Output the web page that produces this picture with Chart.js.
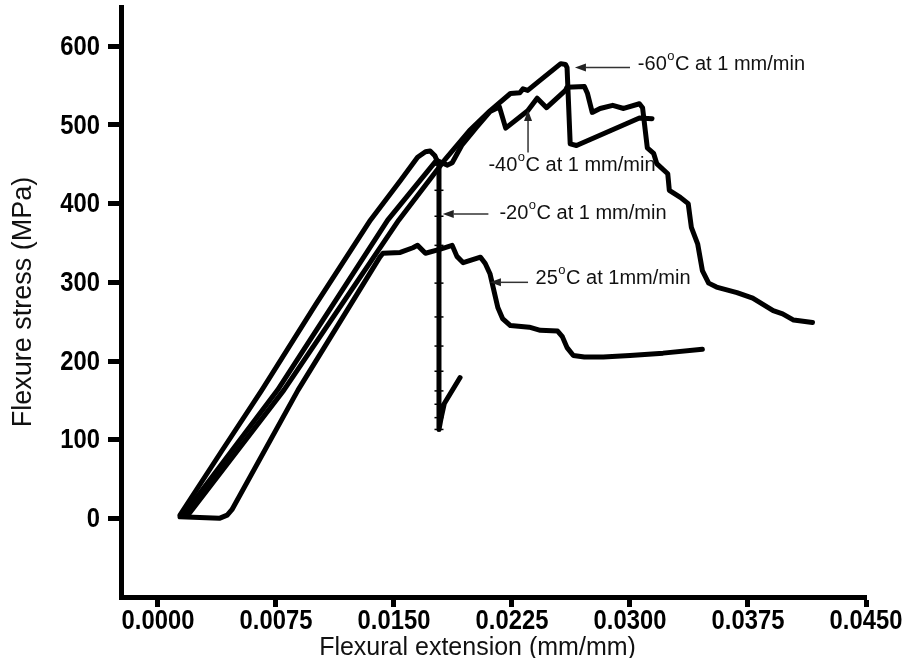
<!DOCTYPE html>
<html>
<head>
<meta charset="utf-8">
<script src="https://cdn.jsdelivr.net/npm/chart.js@4.4.1/dist/chart.umd.min.js"></script>
<style>
  html, body { margin: 0; padding: 0; background: #fff; }
</style>
</head>
<body>
<canvas id="flexChart" width="913" height="658"></canvas>
<script>
// Flexure stress vs flexural extension at four test temperatures

const xTicks = [0, 0.0075, 0.015, 0.0225, 0.03, 0.0375, 0.045];
const yTicks = [0, 100, 200, 300, 400, 500, 600];

// 25 °C
const t25X = [0.0014, 0.0039, 0.0044, 0.0047, 0.0089, 0.0141, 0.0143, 0.0154, 0.0162, 0.0165,
  0.0170, 0.0179, 0.0187, 0.0190, 0.0194, 0.0205, 0.0208, 0.0211, 0.0216, 0.0219,
  0.0224, 0.0236, 0.0243, 0.0254, 0.0257, 0.0260, 0.0264, 0.0271, 0.0283, 0.0300,
  0.0321, 0.0346];
const t25Y = [2, 0, 4, 11, 163, 332, 337, 338, 344, 347,
  337, 342, 347, 333, 325, 332, 324, 311, 268, 254,
  245, 243, 239, 238, 231, 217, 207, 205, 205, 207,
  210, 215];

// -20 °C (sudden failure, recorded points along the drop)
const m20X = [0.0014, 0.0040, 0.0066, 0.0100, 0.0135, 0.0154, 0.0165, 0.0170, 0.0173, 0.0176,
  0.01786, 0.01786, 0.01786, 0.01786, 0.01786, 0.01786, 0.01786, 0.01786, 0.01786, 0.01786,
  0.01786, 0.01786, 0.0180, 0.0182, 0.0192];
const m20Y = [4, 84, 163, 271, 379, 429, 459, 466, 467, 461,
  449, 417, 384, 347, 299, 256, 219, 187, 162, 145,
  128, 113, 128, 146, 179];

// -40 °C
const m40X = [0.0016, 0.0076, 0.0146, 0.0177, 0.0184, 0.0187, 0.0193, 0.0202, 0.0211, 0.0217,
  0.0221, 0.0235, 0.0241, 0.0247, 0.0259, 0.0260, 0.0271, 0.0273, 0.0276, 0.0281,
  0.0289, 0.0296, 0.0306, 0.0308, 0.0311, 0.0315, 0.0317, 0.0324, 0.0325, 0.0332,
  0.0337, 0.0339, 0.0343, 0.0346, 0.0350, 0.0355, 0.0368, 0.0378, 0.0391, 0.0397,
  0.0404, 0.0416];
const m40Y = [4, 163, 379, 455, 449, 452, 474, 496, 517, 523,
  496, 518, 534, 522, 544, 548, 549, 540, 516, 521,
  525, 521, 527, 522, 471, 464, 451, 438, 417, 408,
  400, 370, 349, 315, 299, 294, 287, 280, 264, 260,
  252, 249];

// -60 °C
const m60X = [0.0019, 0.0080, 0.0153, 0.0182, 0.0198, 0.0211, 0.0224, 0.0230, 0.0232, 0.0235,
  0.0243, 0.0256, 0.0259, 0.0260, 0.0262, 0.0266, 0.0306, 0.0314];
const m60Y = [4, 163, 379, 455, 493, 518, 540, 541, 546, 544,
  557, 578, 577, 573, 476, 474, 509, 508];

// curve labels with their arrows (data coordinates)
const curveLabels = [
  { pre: "-60", post: "C at 1 mm/min", x: 0.0305, y: 577, from: [0.0300, 573], to: [0.0265, 573] },
  { pre: "-40", post: "C at 1 mm/min", x: 0.0210, y: 449, from: [0.02352, 465], to: [0.02352, 519] },
  { pre: "-20", post: "C at 1 mm/min", x: 0.0217, y: 388, from: [0.0210, 387], to: [0.0181, 387] },
  { pre: "25", post: "C at 1mm/min", x: 0.0240, y: 305, from: [0.02352, 300], to: [0.0211, 300] },
];

const FONT = '"Liberation Sans", Arial, Helvetica, sans-serif';
const X_TITLE = "Flexural extension (mm/mm)";

function toPoints(xs, ys) {
  return xs.map((v, i) => ({ x: v, y: ys[i] }));
}

function curve(label, xs, ys, extra) {
  return Object.assign({
    label: label,
    data: toPoints(xs, ys),
    showLine: true,
    borderColor: "#000",
    backgroundColor: "#000",
    borderWidth: 5,
    borderJoinStyle: "round",
    borderCapStyle: "round",
    pointRadius: 0,
    fill: false,
  }, extra || {});
}

// narrow bold tick numbers: regular bold squeezed horizontally
function drawNarrow(ctx, text, px, py, align) {
  ctx.save();
  ctx.translate(px, py);
  ctx.scale(0.85, 1);
  ctx.textAlign = align;
  ctx.fillText(text, 0, 0);
  ctx.restore();
}

const labelPlugin = {
  id: "curveLabels",
  afterDraw(chart) {
    const { ctx, chartArea, scales: { x, y } } = chart;
    ctx.save();

    // tick numbers
    ctx.fillStyle = "#000";
    ctx.textBaseline = "middle";
    ctx.font = "bold 28px " + FONT;
    x.ticks.forEach((t) => {
      drawNarrow(ctx, t.label, x.getPixelForValue(t.value), chartArea.bottom + 24, "center");
    });
    y.ticks.forEach((t) => {
      drawNarrow(ctx, t.label, chartArea.left - 21, y.getPixelForValue(t.value) + 1, "right");
    });

    // curve labels and arrows
    curveLabels.forEach((lb) => {
      const x1 = x.getPixelForValue(lb.from[0]), y1 = y.getPixelForValue(lb.from[1]);
      const x2 = x.getPixelForValue(lb.to[0]), y2 = y.getPixelForValue(lb.to[1]);
      const ang = Math.atan2(y2 - y1, x2 - x1);
      const hl = 11, hw = 4;
      ctx.strokeStyle = "#333";
      ctx.lineWidth = 1.5;
      ctx.beginPath();
      ctx.moveTo(x1, y1);
      ctx.lineTo(x2 - hl * Math.cos(ang), y2 - hl * Math.sin(ang));
      ctx.stroke();
      ctx.fillStyle = "#222";
      ctx.beginPath();
      ctx.moveTo(x2, y2);
      ctx.lineTo(x2 - hl * Math.cos(ang) + hw * Math.sin(ang), y2 - hl * Math.sin(ang) - hw * Math.cos(ang));
      ctx.lineTo(x2 - hl * Math.cos(ang) - hw * Math.sin(ang), y2 - hl * Math.sin(ang) + hw * Math.cos(ang));
      ctx.closePath();
      ctx.fill();

      let tx = x.getPixelForValue(lb.x);
      const ty = y.getPixelForValue(lb.y);
      ctx.fillStyle = "#111";
      ctx.textAlign = "left";
      ctx.textBaseline = "middle";
      ctx.font = "20px " + FONT;
      ctx.fillText(lb.pre, tx, ty);
      tx += ctx.measureText(lb.pre).width;
      ctx.font = "13px " + FONT;
      ctx.fillText("o", tx + 0.5, ty - 8);
      tx += ctx.measureText("o").width + 1;
      ctx.font = "20px " + FONT;
      ctx.fillText(lb.post, tx, ty);
    });

    // x axis title, sitting a little left of the plot centre
    ctx.font = "25px " + FONT;
    ctx.fillStyle = "#111";
    ctx.textAlign = "center";
    ctx.textBaseline = "middle";
    ctx.fillText(X_TITLE, (chartArea.left + chartArea.right) / 2 - 16, chart.height - 10);
    ctx.restore();
  },
};

const ctx = document.getElementById("flexChart").getContext("2d");
const myChart = new Chart(ctx, {
  type: "scatter",
  data: {
    datasets: [
      curve("25°C at 1mm/min", t25X, t25Y),
      curve("-20°C at 1 mm/min", m20X, m20Y, {
        pointStyle: "line",
        pointRadius: m20X.map((v) => (v === 0.01786 ? 4.5 : 0)),
        pointBorderColor: "#000",
        pointBorderWidth: 1.5,
      }),
      curve("-40°C at 1 mm/min", m40X, m40Y),
      curve("-60°C at 1 mm/min", m60X, m60Y),
    ],
  },
  options: {
    responsive: false,
    animation: false,
    layout: { padding: { top: 7, right: 47, left: 0, bottom: 0 } },
    plugins: {
      legend: { display: false },
      tooltip: { enabled: false },
    },
    scales: {
      x: {
        type: "linear",
        min: -0.00235,
        max: 0.045,
        afterBuildTicks: (s) => { s.ticks = xTicks.map((v) => ({ value: v })); },
        afterFit: (s) => { s.height = 61; s.paddingLeft = 0; s.paddingRight = 0; },
        grid: { display: true, drawOnChartArea: false, drawTicks: true, tickLength: 10, tickWidth: 5, tickColor: "#000" },
        border: { display: true, color: "#000", width: 5 },
        ticks: {
          display: false,
          autoSkip: false,
          callback: (v) => Number(v).toFixed(4),
        },
        title: { display: false },
      },
      y: {
        type: "linear",
        min: -100,
        max: 650,
        afterBuildTicks: (s) => { s.ticks = yTicks.map((v) => ({ value: v })); },
        afterFit: (s) => { s.width = 121; s.paddingTop = 0; s.paddingBottom = 0; },
        grid: { display: true, drawOnChartArea: false, drawTicks: true, tickLength: 13, tickWidth: 5, tickColor: "#000" },
        border: { display: true, color: "#000", width: 5 },
        ticks: {
          display: false,
          autoSkip: false,
          callback: (v) => String(v),
        },
        title: {
          display: true,
          text: "Flexure stress (MPa)",
          color: "#111",
          font: { family: FONT, size: 27, lineHeight: 1 },
          padding: { top: 10, bottom: 0 },
        },
      },
    },
  },
  plugins: [labelPlugin],
});
</script>
</body>
</html>
